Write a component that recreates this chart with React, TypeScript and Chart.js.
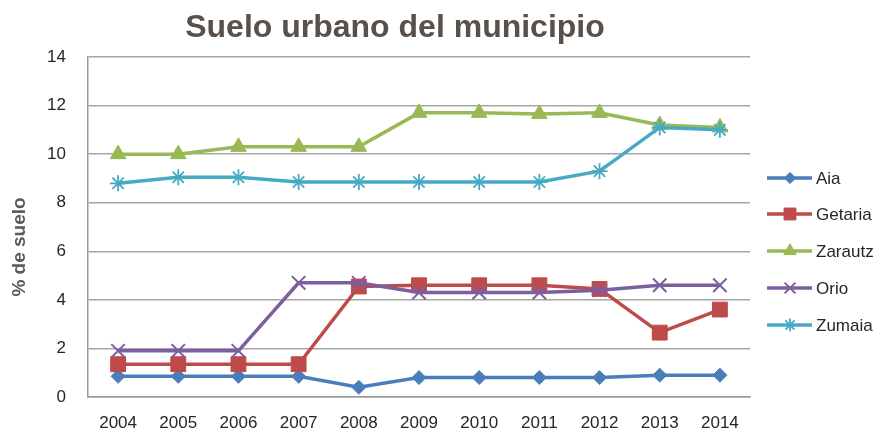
import React, { useEffect, useRef } from "react";
import { Chart, registerables } from "chart.js";
import { drawPoint } from "chart.js/helpers";

Chart.register(...registerables);

const years = ["2004", "2005", "2006", "2007", "2008", "2009", "2010", "2011", "2012", "2013", "2014"];
const aia = [0.85, 0.85, 0.85, 0.85, 0.4, 0.8, 0.8, 0.8, 0.8, 0.9, 0.9];
const getaria = [1.35, 1.35, 1.35, 1.35, 4.55, 4.6, 4.6, 4.6, 4.45, 2.65, 3.6];
const zarautz = [10.0, 10.0, 10.3, 10.3, 10.3, 11.7, 11.7, 11.65, 11.7, 11.2, 11.1];
const orio = [1.9, 1.9, 1.9, 4.7, 4.7, 4.3, 4.3, 4.3, 4.4, 4.6, 4.6];
const zumaia = [8.8, 9.05, 9.05, 8.85, 8.85, 8.85, 8.85, 8.85, 9.3, 11.1, 11.0];

const seriesNames = ["Aia", "Getaria", "Zarautz", "Orio", "Zumaia"];
const seriesData = [aia, getaria, zarautz, orio, zumaia];
const seriesColors = ["#4a7ebb", "#be4b48", "#98b954", "#7d5fa0", "#46aac5"];
const seriesStyles = ["rectRot", "rect", "triangle", "crossRot", "star"];
const seriesRadius = [7, 10.5, 9, 9.5, 8];
const seriesPointBorder = [1, 1, 1, 2, 1.8];

const titleText = "Suelo urbano del municipio";
const yTitle = "% de suelo";

const FONT = '"Liberation Sans", Arial, sans-serif';

const customPlugin = {
  id: "customDecor",
  afterDraw(chart: any) {
    const ctx = chart.ctx;
    ctx.save();
    ctx.fillStyle = "#595149";
    ctx.font = "bold 32px " + FONT;
    ctx.textAlign = "center";
    ctx.textBaseline = "alphabetic";
    ctx.fillText(titleText, 395, 37);

    ctx.save();
    ctx.translate(25, 247);
    ctx.rotate(-Math.PI / 2);
    ctx.fillStyle = "#595959";
    ctx.font = "bold 19px " + FONT;
    ctx.textAlign = "center";
    ctx.textBaseline = "alphabetic";
    ctx.fillText(yTitle, 0, 0);
    ctx.restore();

    const legendY = [178, 214, 251, 288, 325];
    for (let i = 0; i < seriesNames.length; i++) {
      const y = legendY[i];
      ctx.strokeStyle = seriesColors[i];
      ctx.fillStyle = seriesColors[i];
      ctx.lineWidth = 3.5;
      ctx.beginPath();
      ctx.moveTo(767, y);
      ctx.lineTo(812, y);
      ctx.stroke();
      ctx.lineWidth = seriesPointBorder[i];
      drawPoint(ctx, { pointStyle: seriesStyles[i], radius: seriesRadius[i] * 0.8, rotation: 0, borderWidth: seriesPointBorder[i] }, 790, y);
      ctx.fillStyle = "#262626";
      ctx.font = "17px " + FONT;
      ctx.textAlign = "left";
      ctx.textBaseline = "middle";
      ctx.fillText(seriesNames[i], 816, y + 1);
    }
    ctx.restore();
  },
};

export default function App() {
  const ref = useRef<HTMLCanvasElement | null>(null);
  useEffect(() => {
    if (!ref.current) return;
    const chart = new Chart(ref.current, {
      type: "line",
      data: {
        labels: years,
        datasets: seriesNames.map((name, i) => ({
          label: name,
          data: seriesData[i],
          borderColor: seriesColors[i],
          backgroundColor: seriesColors[i],
          pointBackgroundColor: seriesColors[i],
          pointBorderColor: seriesColors[i],
          pointStyle: seriesStyles[i] as any,
          pointRadius: seriesRadius[i],
          pointBorderWidth: seriesPointBorder[i],
          borderWidth: 3.5,
          tension: 0,
          fill: false,
          order: 5 - i,
        })),
      },
      options: {
        animation: false,
        responsive: true,
        maintainAspectRatio: false,
        layout: { padding: { top: 57, right: 133, bottom: 0, left: 0 } },
        plugins: {
          legend: { display: false },
          title: { display: false },
          tooltip: { enabled: false },
        },
        scales: {
          x: {
            offset: true,
            grid: { display: false, drawTicks: false },
            border: { display: true, color: "#9a9a9a", width: 1.5 },
            ticks: { padding: 16, color: "#262626", font: { family: FONT, size: 17 }, maxRotation: 0, autoSkip: false },
            afterFit: (s: any) => { s.height = 33; },
          },
          y: {
            min: 0,
            max: 14,
            ticks: { stepSize: 2, padding: 22, color: "#262626", font: { family: FONT, size: 17 } },
            grid: { color: "#a6a6a6", lineWidth: 1.5, drawTicks: false },
            border: { display: true, color: "#9a9a9a", width: 1.5 },
            afterFit: (s: any) => { s.width = 88; },
          },
        },
      },
      plugins: [customPlugin],
    });
    return () => chart.destroy();
  }, []);
  return (
    <div style={{ position: "fixed", left: 0, top: 0, width: 883, height: 430, background: "#fff" }}>
      <canvas ref={ref} />
    </div>
  );
}
